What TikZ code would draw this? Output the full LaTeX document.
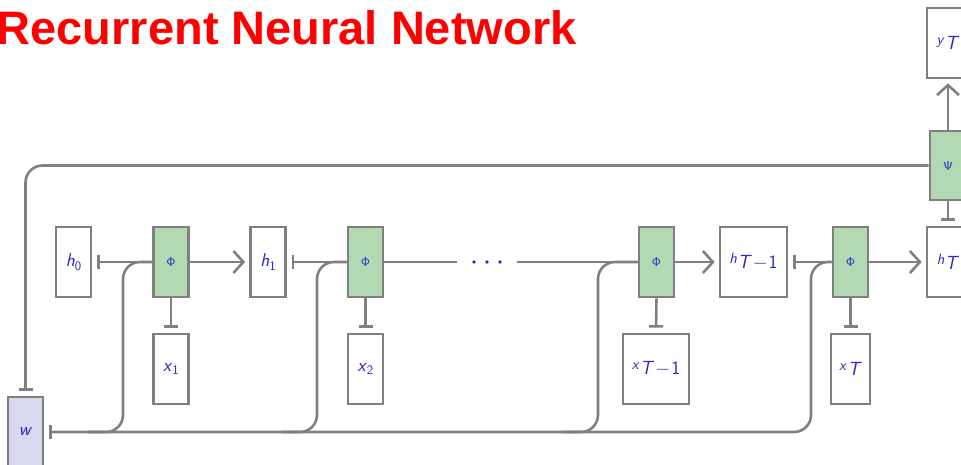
\RequirePackage{fix-cm}
\documentclass[tikz,border=0pt]{standalone}
\usepackage[no-math]{fontspec}
\newfontfamily\headfont{Liberation Sans}
\usetikzlibrary{arrows.meta,calc}

\definecolor{edgegray}{RGB}{128,128,128}
\definecolor{cellgreen}{RGB}{179,217,179}
\definecolor{weightfill}{RGB}{217,217,237}
\definecolor{labelblue}{RGB}{40,40,200}

% label helpers: plain subscript, and small raised letter before a big index
\newcommand\lsub[2]{\textit{#1}\raisebox{-3.5pt}{\fontsize{13}{15}\selectfont #2}}
\newcommand\lpre[2]{{\fontsize{19}{22}\selectfont\raisebox{5pt}{\fontsize{15}{17}\selectfont\textit{#1}}\kern0.5pt#2}}
\newcommand\tmo{\textit{T}\kern1pt$-$\kern1pt1}
\newcommand\cellsym[1]{$\mathsf{#1}$}

\begin{document}
\begin{tikzpicture}[x=1pt,y=-1pt,
  box/.style={draw=edgegray, line width=2.7pt, fill=white, minimum width=35pt,
    minimum height=70pt, inner sep=0pt, text=labelblue,
    font=\fontsize{18.5}{21}\selectfont\sffamily},
  cell/.style={box, fill=cellgreen, font=\fontsize{13}{15}\selectfont},
  link/.style={draw=edgegray, line width=2.6pt},
  tee/.style={link, -{Bar[width=14pt]}, shorten >=5pt},
  arr/.style={link, -{Straight Barb[length=10pt, width=22pt]}, shorten >=4pt},
  bus/.style={link, rounded corners=17pt}]
\useasboundingbox (0,0) rectangle (961,465);

\node[anchor=base west, inner sep=0pt, text=red,
  font=\headfont\bfseries\fontsize{47}{52}\selectfont] (title) at (-3.5,45)
  {Recurrent Neural Network};

% unrolled chain
\node[box] (h0) at (73.5,262) {\lsub{h}{0}};
\node[cell] (phi1) at (171,262) {\cellsym{\Phi}};
\node[box] (h1) at (268,262) {\lsub{h}{1}};
\node[box] (x1) at (171,369) {\lsub{x}{1}};
\node[cell] (phi2) at (365.5,262) {\cellsym{\Phi}};
\node[box] (x2) at (365.5,369) {\lsub{x}{2}};
\node[minimum width=60pt, inner sep=0pt] (dots) at (487,262) {};
\foreach \dx in {-13,0,13}
  \fill[labelblue] ($(dots.center)+(\dx,0)$) circle (1.8pt);
\node[cell] (phiA) at (656.5,262) {\cellsym{\Phi}};
\node[box, minimum width=67pt] (hA) at (753.5,262) {\lpre{h}{\tmo}};
\node[box, minimum width=66pt] (xA) at (656,369) {\lpre{x}{\tmo}};
\node[cell] (phiB) at (850.5,262) {\cellsym{\Phi}};
\node[box, minimum width=39pt] (xB) at (850.5,369) {\lpre{x}{\textit{T}}};
\node[box, minimum width=42pt] (hB) at (948,262) {\lpre{h}{\textit{T}}};
\node[cell, minimum width=36pt, minimum height=69pt] (psi) at (948,165.5) {\cellsym{\Psi}};
\node[box, minimum width=42pt] (yB) at (948,43) {\lpre{y}{\textit{T}}};
\node[box, fill=weightfill] (w) at (25.5,432) {\textit{w}};

% bus coordinates
\coordinate (b1) at (123,432);
\coordinate (b2) at (317,432);
\coordinate (b3) at (598,432);
\coordinate (b4) at (811,432);

% hidden state flow
\draw[tee] (phi1.west) -- (h0.east);
\draw[arr] (phi1.east) -- (h1.west);
\draw[tee] (phi2.west) -- (h1.east);
\draw[link] (phi2.east) -- (dots.west);
\draw[link] (dots.east) -- (phiA.west);
\draw[arr] (phiA.east) -- (hA.west);
\draw[tee] (phiB.west) -- (hA.east);
\draw[arr] (phiB.east) -- (hB.west);

% inputs
\draw[tee] (phi1.south) -- (x1.north);
\draw[tee] (phi2.south) -- (x2.north);
\draw[tee] (phiA.south) -- (xA.north);
\draw[tee] (phiB.south) -- (xB.north);

% readout
\draw[tee] (psi.south) -- (hB.north);
\draw[arr] (psi.north) -- (yB.south);

% shared weights
\draw[bus, tee] (psi.west) -| (w.north);
\draw[bus, tee] (phiB.west) -| (b4) -- (w.east);
\draw[bus] (phi1.west) -| (b1) -- ++(-35,0);
\draw[bus] (phi2.west) -| (b2) -- ++(-35,0);
\draw[bus] (phiA.west) -| (b3) -- ++(-35,0);
\end{tikzpicture}
\end{document}
